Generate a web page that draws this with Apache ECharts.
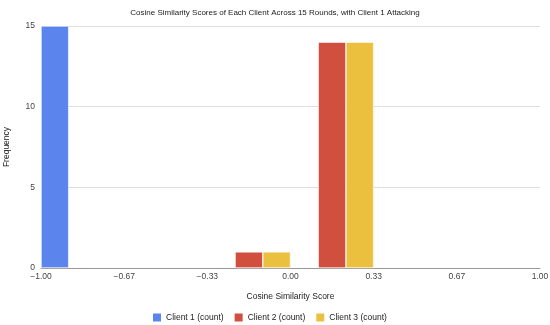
<!DOCTYPE html>
<html><head><meta charset="utf-8">
<script src="https://cdn.jsdelivr.net/npm/echarts@6/dist/echarts.min.js"></script>
<style>html,body{margin:0;padding:0;background:#fff}#c{width:550px;height:325px}</style>
</head><body><div id="c"></div>
<script>
var bins = ['b1','b2','b3','b4','b5','b6'];
var tickLabels = ['\u22121.00','\u22120.67','\u22120.33','0.00','0.33','0.67','1.00'];
var seriesNames = ['Client 1 (count)','Client 2 (count)','Client 3 (count)'];
var client1 = [15, 0, 0, 0, 0, 0];
var client2 = [0, 0, 1, 14, 0, 0];
var client3 = [0, 0, 1, 14, 0, 0];
var colors = ['#5b84ed','#d04f3e','#ecc03f'];

var font = 'Liberation Sans, Arial, sans-serif';
function toData(a){ return a.map(function(v){ return v === 0 ? '-' : v; }); }
var chart = echarts.init(document.getElementById('c'));
chart.setOption({
  animation: false,
  title: { text: 'Cosine Similarity Scores of Each Client Across 15 Rounds, with Client 1 Attacking',
    left: 'center', top: 4, textStyle: { fontFamily: font, fontSize: 8, fontWeight: 'normal', color: '#222' } },
  color: colors,
  legend: { top: 313, left: 153, padding: 0, itemWidth: 8, itemHeight: 8, itemGap: 11,
    itemStyle: { borderWidth: 0 },
    textStyle: { fontFamily: font, fontSize: 8.5, color: '#222' },
    data: seriesNames.map(function(n){ return { name: n, icon: 'rect' }; }) },
  grid: { left: 41, right: 10, top: 26, bottom: 57, outerBoundsMode: 'none', containLabel: false },
  xAxis: [
    { type: 'category', data: bins, show: false, boundaryGap: true },
    { type: 'value', position: 'bottom', min: 0, max: 6, interval: 1,
      name: 'Cosine Similarity Score', nameLocation: 'middle', nameGap: 24,
      nameTextStyle: { fontFamily: font, fontSize: 8.5, color: '#222' },
      axisLine: { show: true, lineStyle: { color: '#999', width: 1 } },
      axisTick: { show: false }, splitLine: { show: false },
      axisLabel: { fontFamily: font, fontSize: 8.5, color: '#444', margin: 4,
        formatter: function(v){ return tickLabels[Math.round(v)]; } } }
  ],
  yAxis: { type: 'value', min: 0, max: 15, interval: 5,
    name: 'Frequency', nameLocation: 'middle', nameGap: 30,
    nameTextStyle: { fontFamily: font, fontSize: 8.5, color: '#222' },
    axisLine: { show: false }, axisTick: { show: false },
    axisLabel: { fontFamily: font, fontSize: 8.5, color: '#444', margin: 6 },
    splitLine: { lineStyle: { color: '#dddddd', width: 1 } } },
  series: [
    { name: seriesNames[0], type: 'bar', xAxisIndex: 0, data: toData(client1), barGap: 0, barCategoryGap: 0,
      itemStyle: { borderColor: '#fff', borderWidth: 0.6 } },
    { name: seriesNames[1], type: 'bar', xAxisIndex: 0, data: toData(client2), barGap: 0, barCategoryGap: 0,
      itemStyle: { borderColor: '#fff', borderWidth: 0.6 } },
    { name: seriesNames[2], type: 'bar', xAxisIndex: 0, data: toData(client3), barGap: 0, barCategoryGap: 0,
      itemStyle: { borderColor: '#fff', borderWidth: 0.6 } }
  ]
});
</script></body></html>
